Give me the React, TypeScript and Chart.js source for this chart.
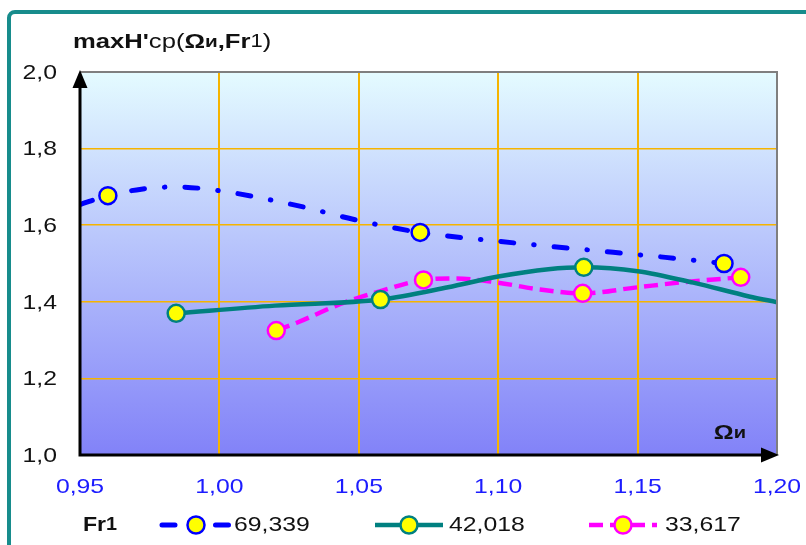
import React, { useEffect, useRef } from 'react';
import { Chart, registerables } from 'chart.js';

Chart.register(...registerables);

// ---- tick values / labels ----
const xTicks = [0.95, 1.0, 1.05, 1.1, 1.15, 1.2];
const xTickLabels = ['0,95', '1,00', '1,05', '1,10', '1,15', '1,20'];
const yTicks = [1.0, 1.2, 1.4, 1.6, 1.8, 2.0];
const yTickLabels = ['1,0', '1,2', '1,4', '1,6', '1,8', '2,0'];

// ---- series names (Fr1) ----
const seriesNames = ['69,339', '42,018', '33,617'];

// ---- series 1: Fr1 = 69,339 ----
const s1MarkX = [0.96, 1.072, 1.181];
const s1MarkY = [1.677, 1.581, 1.5];
const s1CurveX = [0.95, 0.96, 0.972, 0.984, 1.0, 1.028, 1.05, 1.072, 1.1, 1.13, 1.16, 1.181];
const s1CurveY = [1.654, 1.677, 1.694, 1.7, 1.69, 1.651, 1.612, 1.581, 1.558, 1.537, 1.516, 1.5];

// ---- series 2: Fr1 = 42,018 ----
const s2MarkX = [0.9845, 1.0578, 1.1307];
const s2MarkY = [1.37, 1.406, 1.49];
const s2CurveX = [0.9845, 1.02, 1.0578, 1.082, 1.1, 1.118, 1.1307, 1.15, 1.17, 1.19, 1.2];
const s2CurveY = [1.37, 1.39, 1.406, 1.438, 1.466, 1.485, 1.49, 1.48, 1.45, 1.414, 1.399];

// ---- series 3: Fr1 = 33,617 ----
const s3MarkX = [1.0204, 1.0732, 1.1303, 1.187];
const s3MarkY = [1.325, 1.457, 1.422, 1.464];
const s3CurveX = [1.0204, 1.028, 1.043, 1.0578, 1.0732, 1.085, 1.1, 1.115, 1.1303, 1.149, 1.166, 1.187];
const s3CurveY = [1.325, 1.346, 1.393, 1.428, 1.457, 1.461, 1.45, 1.432, 1.422, 1.437, 1.451, 1.464];

const pts = (xs: number[], ys: number[]) => xs.map((x, i) => ({ x, y: ys[i] }));

const FONT = "'Liberation Sans', Arial, sans-serif";
const SX = 1.18;
const GOLD = '#f5b400';

type Style = { color: string; dash: number[]; cap: CanvasLineCap; width: number };
const styles: Style[] = [
  { color: '#0000ff', dash: [13, 20, 0.5, 20], cap: 'round', width: 5 },
  { color: '#008080', dash: [], cap: 'butt', width: 4.5 },
  { color: '#ff00ff', dash: [14, 7], cap: 'butt', width: 4.5 },
];

type Run = { t: string; f: string };
function drawRuns(ctx: CanvasRenderingContext2D, runs: Run[], x: number, y: number, align: 'left' | 'right' | 'center', color: string, sx = SX) {
  ctx.save();
  ctx.fillStyle = color;
  ctx.textBaseline = 'middle';
  ctx.textAlign = 'left';
  let total = 0;
  const widths = runs.map((r) => {
    ctx.font = r.f;
    const w = ctx.measureText(r.t).width;
    total += w;
    return w;
  });
  let start = x;
  if (align === 'right') start = x - total * sx;
  if (align === 'center') start = x - (total * sx) / 2;
  ctx.translate(start, y);
  ctx.scale(sx, 1);
  let cx = 0;
  runs.forEach((r, i) => {
    ctx.font = r.f;
    ctx.fillText(r.t, cx, 0);
    cx += widths[i];
  });
  ctx.restore();
}

const decor = {
  id: 'decor',
  beforeDraw(chart: any) {
    const { ctx, chartArea: a } = chart;
    const g = ctx.createLinearGradient(0, a.top, 0, a.bottom);
    g.addColorStop(0, '#e4fbff');
    g.addColorStop(1, '#8282f8');
    ctx.save();
    ctx.fillStyle = g;
    ctx.fillRect(a.left, a.top, a.right - a.left, a.bottom - a.top);
    ctx.restore();
  },
  afterDatasetsDraw(chart: any) {
    const { ctx, chartArea: a } = chart;
    ctx.save();
    ctx.strokeStyle = '#7f7f7f';
    ctx.lineWidth = 2;
    ctx.beginPath();
    ctx.moveTo(a.left, a.top);
    ctx.lineTo(a.right, a.top);
    ctx.lineTo(a.right, a.bottom);
    ctx.stroke();
    ctx.strokeStyle = '#000';
    ctx.fillStyle = '#000';
    ctx.lineWidth = 3;
    ctx.beginPath();
    ctx.moveTo(a.left, a.top + 10);
    ctx.lineTo(a.left, a.bottom);
    ctx.lineTo(a.right - 10, a.bottom);
    ctx.stroke();
    ctx.beginPath();
    ctx.moveTo(a.left, a.top - 2);
    ctx.lineTo(a.left - 7.5, a.top + 16);
    ctx.lineTo(a.left + 7.5, a.top + 16);
    ctx.closePath();
    ctx.fill();
    ctx.beginPath();
    ctx.moveTo(a.right + 2, a.bottom);
    ctx.lineTo(a.right - 16, a.bottom - 7.5);
    ctx.lineTo(a.right - 16, a.bottom + 7.5);
    ctx.closePath();
    ctx.fill();
    ctx.restore();
  },
  afterDraw(chart: any) {
    const { ctx, chartArea: a, scales } = chart;
    const xs = scales.x;
    const ys = scales.y;
    yTicks.forEach((v, i) => {
      drawRuns(ctx, [{ t: yTickLabels[i], f: `21px ${FONT}` }], a.left - 23, ys.getPixelForValue(v) + 1, 'right', '#111');
    });
    xTicks.forEach((v, i) => {
      drawRuns(ctx, [{ t: xTickLabels[i], f: `21px ${FONT}` }], xs.getPixelForValue(v), a.bottom + 32, 'center', '#1c1cff');
    });
    drawRuns(
      ctx,
      [
        { t: "maxH'", f: `bold 21px ${FONT}` },
        { t: 'cp(', f: `21px ${FONT}` },
        { t: 'Ω', f: `bold 21px ${FONT}` },
        { t: 'и', f: `bold 17px ${FONT}` },
        { t: ',', f: `bold 21px ${FONT}` },
        { t: 'Fr', f: `bold 21px ${FONT}` },
        { t: '1', f: `18px ${FONT}` },
        { t: ')', f: `21px ${FONT}` },
      ],
      a.left - 7,
      a.top - 30,
      'left',
      '#111',
      1.22
    );
    drawRuns(
      ctx,
      [
        { t: 'Ω', f: `bold 21px ${FONT}` },
        { t: 'и', f: `bold 17px ${FONT}` },
      ],
      a.right - 31,
      a.bottom - 22,
      'right',
      '#111'
    );
    const ly = a.bottom + 70;
    drawRuns(
      ctx,
      [
        { t: 'Fr', f: `bold 21px ${FONT}` },
        { t: '1', f: `bold 18px ${FONT}` },
      ],
      a.left + 3,
      ly,
      'left',
      '#111',
      1.1
    );
    const itemX = [a.left + 82, a.left + 295, a.left + 509];
    const lineLen = 68;
    styles.forEach((st, i) => {
      const x0 = itemX[i];
      ctx.save();
      ctx.strokeStyle = st.color;
      ctx.lineWidth = st.width;
      ctx.lineCap = st.cap;
      ctx.setLineDash(st.dash);
      ctx.beginPath();
      ctx.moveTo(x0, ly);
      ctx.lineTo(x0 + lineLen, ly);
      ctx.stroke();
      ctx.setLineDash([]);
      ctx.fillStyle = '#ffff00';
      ctx.lineWidth = 2.5;
      ctx.beginPath();
      ctx.arc(x0 + lineLen / 2, ly, 8.5, 0, Math.PI * 2);
      ctx.fill();
      ctx.stroke();
      ctx.restore();
      drawRuns(ctx, [{ t: seriesNames[i], f: `21px ${FONT}` }], x0 + lineLen + 4 + i * 2, ly, 'left', '#111');
    });
  },
};

export default function App() {
  const ref = useRef<HTMLCanvasElement | null>(null);
  useEffect(() => {
    if (!ref.current) return;
    const curves = [pts(s1CurveX, s1CurveY), pts(s2CurveX, s2CurveY), pts(s3CurveX, s3CurveY)];
    const marks = [pts(s1MarkX, s1MarkY), pts(s2MarkX, s2MarkY), pts(s3MarkX, s3MarkY)];
    const datasets: any[] = [];
    styles.forEach((st, i) => {
      datasets.push({
        label: seriesNames[i] + ' line',
        data: curves[i],
        showLine: true,
        borderColor: st.color,
        borderWidth: st.width,
        borderDash: st.dash,
        borderCapStyle: st.cap,
        cubicInterpolationMode: 'monotone',
        pointRadius: 0,
        pointHoverRadius: 0,
        fill: false,
        order: 2,
      });
      datasets.push({
        label: seriesNames[i],
        data: marks[i],
        showLine: false,
        pointRadius: 8.5,
        pointHoverRadius: 8.5,
        pointBackgroundColor: '#ffff00',
        pointBorderColor: st.color,
        pointBorderWidth: 2.5,
        order: 1,
      });
    });
    const gridColor = (edges: number[]) => (c: any) =>
      c.tick && edges.some((e) => Math.abs(e - c.tick.value) < 1e-6) ? 'rgba(0,0,0,0)' : GOLD;
    const chart = new Chart(ref.current, {
      type: 'scatter',
      data: { datasets },
      options: {
        animation: false,
        responsive: false,
        maintainAspectRatio: false,
        events: [],
        layout: { padding: { left: 80, top: 72, right: 29, bottom: 90 } },
        plugins: { legend: { display: false }, tooltip: { enabled: false }, title: { display: false } },
        scales: {
          x: {
            type: 'linear',
            min: xTicks[0],
            max: xTicks[xTicks.length - 1],
            afterBuildTicks: (s: any) => {
              s.ticks = xTicks.map((v) => ({ value: v }));
            },
            afterFit: (s: any) => {
              s.height = 0;
            },
            ticks: { display: false },
            border: { display: false },
            grid: { color: gridColor([0.95, 1.2]), lineWidth: 2, drawTicks: false },
          },
          y: {
            type: 'linear',
            min: yTicks[0],
            max: yTicks[yTicks.length - 1],
            afterBuildTicks: (s: any) => {
              s.ticks = yTicks.map((v) => ({ value: v }));
            },
            afterFit: (s: any) => {
              s.width = 0;
            },
            ticks: { display: false },
            border: { display: false },
            grid: { color: gridColor([1.0, 2.0]), lineWidth: 1.5, drawTicks: false },
          },
        },
      },
      plugins: [decor],
    });
    return () => chart.destroy();
  }, []);

  return (
    <div style={{ position: 'absolute', left: 0, top: 0, width: 806, height: 545, overflow: 'hidden', background: '#fff' }}>
      <div
        style={{
          position: 'absolute',
          left: 7,
          top: 10,
          width: 830,
          height: 620,
          boxSizing: 'border-box',
          border: '4px solid #178c8c',
          borderTopLeftRadius: 8,
        }}
      />
      <canvas ref={ref} width={806} height={545} style={{ position: 'absolute', left: 0, top: 0, width: 806, height: 545 }} />
    </div>
  );
}
